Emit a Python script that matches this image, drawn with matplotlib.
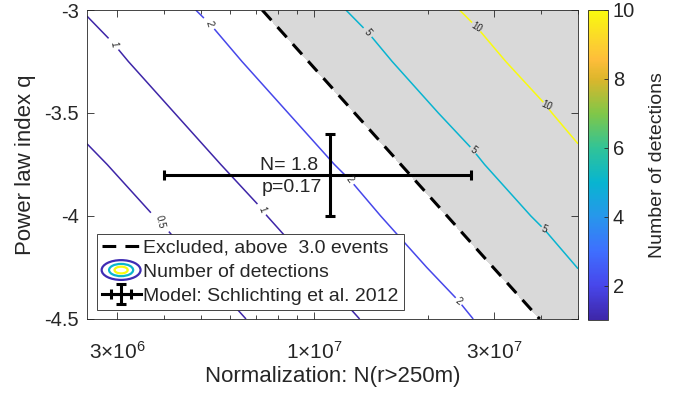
import numpy as np
import matplotlib
matplotlib.use("Agg")
import matplotlib.pyplot as plt
from matplotlib.colors import LinearSegmentedColormap, Normalize
from matplotlib.cm import ScalarMappable
from matplotlib.legend_handler import HandlerBase
from matplotlib.lines import Line2D
from matplotlib.patches import Ellipse
import matplotlib.ticker as mticker

plt.rcParams['font.family'] = ['Liberation Sans', 'DejaVu Sans']
plt.rcParams['mathtext.fontset'] = 'custom'
plt.rcParams['mathtext.rm'] = 'Liberation Sans'
plt.rcParams['axes.unicode_minus'] = False

INK = (0.15, 0.15, 0.15)

# expected detections per 1e7 objects (r>250m) for each power law index
q_rows = [-4.5, -4.25, -4.0, -3.75, -3.5, -3.25, -3.0]
det_per_1e7 = [0.758, 1.006, 1.333, 1.768, 2.344, 3.107, 4.12]
norm_edges = [2.5e6, 5e7]

contour_levels = [0.5, 1, 2, 5, 10]
excl_level = 3.0

# Schlichting et al. 2012 model point
model_norm = 1.1e7
model_norm_lo = 4.0e6
model_norm_hi = 2.6e7
model_q = -3.8
model_q_err = 0.2
model_N = 1.8
model_p = 0.17

x_ticks = [3e6, 1e7, 3e7]
x_ticklabels = [r'$\mathregular{3{\times}10^{6}}$', r'$\mathregular{1{\times}10^{7}}$',
                r'$\mathregular{3{\times}10^{7}}$']
y_ticks = [-4.5, -4.0, -3.5, -3.0]
y_ticklabels = ['-4.5', '-4', '-3.5', '-3']
cbar_ticks = [2, 4, 6, 8, 10]

# old-style parula
parula = LinearSegmentedColormap.from_list('parula', [
    (0.000, (0.2422, 0.1504, 0.6603)),
    (0.111, (0.2803, 0.2782, 0.9221)),
    (0.222, (0.2440, 0.4358, 0.9988)),
    (0.333, (0.1540, 0.5902, 0.9218)),
    (0.444, (0.0297, 0.7082, 0.8163)),
    (0.556, (0.1938, 0.7661, 0.5900)),
    (0.667, (0.5044, 0.7793, 0.2802)),
    (0.778, (0.8634, 0.7136, 0.1695)),
    (0.841, (0.9956, 0.7434, 0.2279)),
    (0.889, (0.9892, 0.8136, 0.1885)),
    (1.000, (0.9763, 0.9831, 0.0538)),
])
cnorm = Normalize(1, 10)

X, Q = np.meshgrid(norm_edges, q_rows)
N = np.outer(det_per_1e7, np.array(norm_edges) / 1e7)

fig = plt.figure(figsize=(6.87, 3.97), dpi=100)
ax = fig.add_axes([0.1266, 0.1965, 0.7147, 0.7783])

ax.contourf(X, Q, N, levels=[excl_level, N.max() + 1], colors=[(0.85, 0.85, 0.85)], zorder=0.5)
cs = ax.contour(X, Q, N, levels=contour_levels, cmap=parula, norm=cnorm, linewidths=1.1, zorder=2)
ax.contour(X, Q, N, levels=[excl_level], colors='k', linewidths=2.2,
           linestyles=[(0, (4.5, 3))], zorder=2.5)

label_spots = [(2.93e6, -3.165), (6.34e6, -3.985), (5.12e6, -3.068), (1.236e7, -3.825),
               (2.41e7, -4.417), (3.90e6, -4.03), (1.378e7, -3.112), (2.64e7, -3.68),
               (4.06e7, -4.058), (2.67e7, -3.097), (4.11e7, -3.476)]
ax.clabel(cs, fmt='%g', fontsize=7, colors=[INK], inline=True, inline_spacing=3, manual=label_spots)

eb = ax.errorbar(model_norm, model_q,
                 xerr=[[model_norm - model_norm_lo], [model_norm_hi - model_norm]],
                 yerr=model_q_err, color='k', lw=2.2, capsize=3.5, capthick=2.2, zorder=3)
ax.annotate(f'N= {model_N:.1f}', (model_norm, model_q), xytext=(-12, 5), textcoords='offset pixels',
            ha='right', va='baseline', fontsize=14, color=INK, zorder=4)
ax.annotate(f'p={model_p:.2f}', (model_norm, model_q), xytext=(-8, -4), textcoords='offset pixels',
            ha='right', va='top', fontsize=14, color=INK, zorder=4)

ax.set_xscale('log')
ax.set_xlim(norm_edges[0], norm_edges[1])
ax.set_ylim(-4.5, -3.0)
ax.xaxis.set_major_locator(mticker.FixedLocator(x_ticks))
ax.xaxis.set_major_formatter(mticker.FixedFormatter(x_ticklabels))
ax.xaxis.set_minor_locator(mticker.LogLocator(subs=np.arange(2, 10)))
ax.xaxis.set_minor_formatter(mticker.NullFormatter())
ax.set_yticks(y_ticks)
ax.set_yticklabels(y_ticklabels)
ax.tick_params(which='both', direction='in', top=True, right=True, colors=INK, labelsize=14.5, width=0.6)
ax.tick_params(which='major', length=5, pad=6)
ax.tick_params(which='minor', length=3)
ax.tick_params(axis='x', which='major', pad=16, labelsize=15)
for sp in ax.spines.values():
    sp.set_color(INK)
    sp.set_linewidth(0.6)
ax.set_xlabel('Normalization: N(r>250m)', fontsize=16, color=INK, labelpad=2)
ax.set_ylabel('Power law index q', fontsize=16, color=INK, labelpad=6)


class ContourIcon:
    colors = [parula(0.02), parula(0.45), parula(1.0)]


class ContourIconHandler(HandlerBase):
    def create_artists(self, legend, orig_handle, xdescent, ydescent, width, height, fontsize, trans):
        cx = width / 2 - xdescent
        cy = height / 2 - ydescent
        arts = []
        for s, col in zip((1.0, 0.62, 0.34), orig_handle.colors):
            arts.append(Ellipse((cx, cy), width * s, height * 1.45 * s, fill=False,
                                ec=col, lw=1.6, transform=trans))
        return arts


excl_handle = Line2D([], [], color='k', lw=2.2, ls=(0, (4.5, 3)))
leg = ax.legend([excl_handle, ContourIcon(), eb],
                [f'Excluded, above  {excl_level:.1f} events', 'Number of detections',
                 'Model: Schlichting et al. 2012'],
                handler_map={ContourIcon: ContourIconHandler()},
                loc='lower left', bbox_to_anchor=(0.02, 0.03), borderaxespad=0,
                fontsize=14, handlelength=2.0, handletextpad=0.15, labelspacing=0.33,
                borderpad=0.25, fancybox=False, framealpha=1)
leg.get_frame().set_edgecolor(INK)
leg.get_frame().set_linewidth(0.6)
for t in leg.get_texts():
    t.set_color(INK)
leg.set_zorder(10)

cax = fig.add_axes([0.856, 0.194, 0.029, 0.781])
cb = fig.colorbar(ScalarMappable(norm=cnorm, cmap=parula), cax=cax, ticks=cbar_ticks)
cb.outline.set_edgecolor(INK)
cb.outline.set_linewidth(0.6)
cax.tick_params(direction='in', colors=INK, labelsize=14.5, length=3, width=0.6)
cb.set_label('Number of detections', fontsize=14, color=INK, labelpad=10)

fig.savefig('out.png', dpi=100)
